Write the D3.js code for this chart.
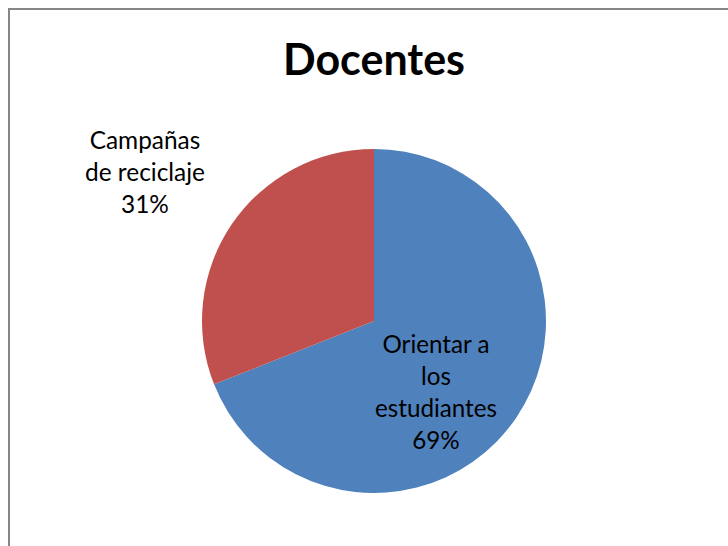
<!DOCTYPE html>
<html><head><meta charset="utf-8">
<script src="https://cdn.jsdelivr.net/npm/d3@7"></script>
<style>body{margin:0;background:#fff}svg{display:block}</style>
</head><body>
<svg id="c" width="728" height="546"></svg>
<script>
const title = "Docentes";
const categories = ["Orientar a los estudiantes", "Campañas de reciclaje"];
const values = [69, 31];
const labelLines = [["Orientar a", "los", "estudiantes", "69%"], ["Campañas", "de reciclaje", "31%"]];
const colors = ["#4F81BD", "#C0504D"];

const svg = d3.select("#c");
const font = "Lato, 'Open Sans', sans-serif";
svg.append("rect").attr("x", 9).attr("y", 9).attr("width", 730).attr("height", 560)
  .attr("fill", "#fff").attr("stroke", "#868686").attr("stroke-width", 2);

const cx = 374, cy = 321, r = 172;
const pie = d3.pie().sort(null).value(d => d);
const arcs = pie(values);
const arc = d3.arc().innerRadius(0).outerRadius(r);
const g = svg.append("g").attr("transform", `translate(${cx},${cy})`);
g.selectAll("path").data(arcs).join("path")
  .attr("d", arc).attr("fill", (d, i) => colors[i]);

const t = svg.append("text").attr("x", cx).attr("y", 75).attr("text-anchor", "middle")
  .attr("font-family", font).attr("font-weight", "bold").attr("font-size", 40).attr("fill", "#000").text(title);
// fit to width
let w = t.node().getComputedTextLength();
t.attr("font-size", 40 * 182 / w);

// labels
const labelPos = [{x: 436, y: 353}, {x: 145, y: 149}];
const refWidth = [["estudiantes", 122], ["de reciclaje", 120]];
labelLines.forEach((lines, i) => {
  const tmp = svg.append("text").attr("font-family", font).attr("font-size", 24).text(refWidth[i][0]);
  const fs = 24 * refWidth[i][1] / tmp.node().getComputedTextLength();
  tmp.remove();
  const tx = svg.append("text").attr("font-family", font).attr("font-size", fs)
    .attr("text-anchor", "middle").attr("fill", "#000");
  lines.forEach((l, j) => {
    tx.append("tspan").attr("x", labelPos[i].x).attr("y", labelPos[i].y + j * 32).text(l);
  });
});
</script>
</body></html>
